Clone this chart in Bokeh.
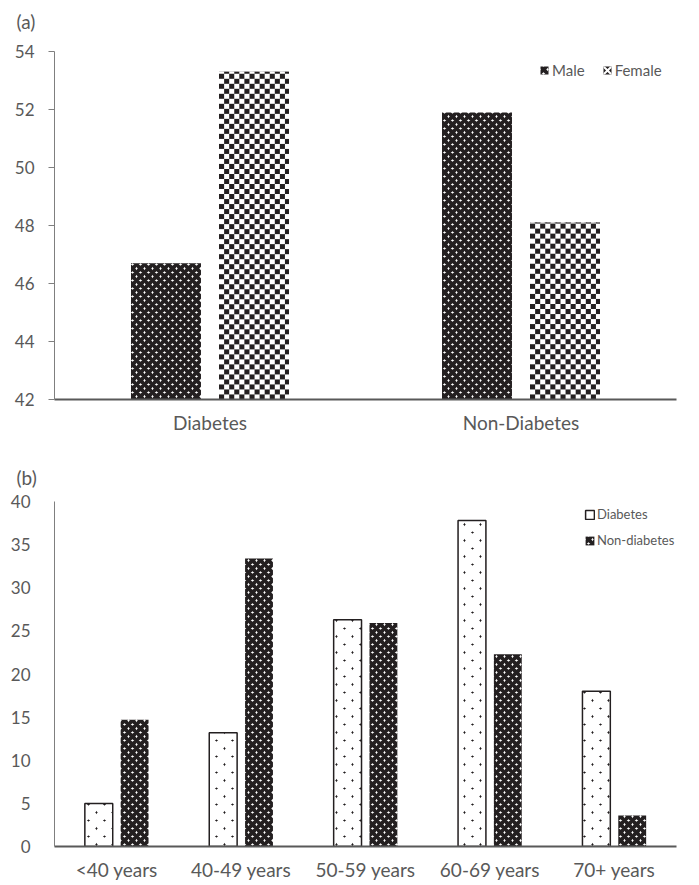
import numpy as np
from bokeh.plotting import figure
from bokeh.models import ColumnDataSource, Legend, LegendItem, SingleIntervalTicker, Title
from bokeh.transform import dodge
from bokeh.layouts import column
from bokeh.embed import file_html
from bokeh.resources import INLINE

# ---- data (a)
groups_a = ["Diabetes", "Non-Diabetes"]
male_a = [46.7, 51.9]
female_a = [53.3, 48.1]

# ---- data (b)
ages_b = ["<40 years", "40-49 years", "50-59 years", "60-69 years", "70+ years"]
diab_b = [5.0, 13.2, 26.3, 37.8, 18.0]
nondiab_b = [14.7, 33.4, 25.9, 22.3, 3.6]

FONT = "Lato"
GREY = "#595959"
BLACK = "#231f20"
W = 695
FRAME_H = 348
BAR_W = 0.225


def style(p, ticks_out, xstandoff, ystandoff):
    p.toolbar_location = None
    p.outline_line_color = None
    p.xgrid.visible = False
    p.ygrid.visible = False
    p.x_range.range_padding = 0
    p.xaxis.major_label_text_font = FONT
    p.xaxis.major_label_text_font_size = "19px"
    p.yaxis.major_label_text_font = FONT
    p.yaxis.major_label_text_font_size = "17px"
    for ax in (p.xaxis[0], p.yaxis[0]):
        ax.major_label_text_color = GREY
        ax.minor_tick_line_color = None
        ax.major_tick_in = 0
    p.xaxis.axis_line_color = GREY
    p.xaxis.axis_line_width = 2
    p.xaxis.major_tick_line_color = None
    p.xaxis.major_tick_out = 0
    p.xaxis.major_label_standoff = xstandoff
    p.yaxis.axis_line_color = "#7f7f7f"
    p.yaxis.axis_line_width = 1
    if ticks_out:
        p.yaxis.major_tick_out = 6
        p.yaxis.major_tick_line_color = "#7f7f7f"
    else:
        p.yaxis.major_tick_out = 0
        p.yaxis.major_tick_line_color = None
    p.yaxis.major_label_standoff = ystandoff


def panel_label(p, txt, gap):
    # spacer title next to the frame, then the panel label above it
    p.add_layout(Title(text=" ", text_font_size="2px", standoff=gap), "above")
    p.add_layout(Title(text=txt, align="left", offset=-38, standoff=0, text_font=FONT,
                       text_font_size="19px", text_font_style="normal", text_color=GREY), "above")


def checker_img(h_px, w_px, cell=5):
    yy, xx = np.mgrid[0:h_px, 0:w_px]
    on = ((yy // cell) + (xx // cell)) % 2 == 0
    return np.where(on, 0xFF201F23, 0xFFFFFFFF).astype(np.uint32)


# ---------------- panel (a)
ymin_a, ymax_a = 42, 54
src_a = ColumnDataSource(dict(g=groups_a, male=male_a, female=female_a))
pa = figure(x_range=groups_a, y_range=(ymin_a, ymax_a), width=W, height=436,
            output_backend="svg", toolbar_location=None,
            min_border_left=54, min_border_right=W - 676, min_border_top=51, min_border_bottom=37)
style(pa, True, 11, 14)
pa.yaxis.ticker = SingleIntervalTicker(interval=2)
panel_label(pa, "(a)", 15)

r_m = pa.vbar(x=dodge("g", -0.1415, range=pa.x_range), top="male", bottom=ymin_a, width=BAR_W, source=src_a,
              fill_color="white", line_color=None, hatch_pattern="diagonal_cross", hatch_color=BLACK,
              hatch_scale=8, hatch_weight=3.8)
r_f = pa.vbar(x=dodge("g", 0.1415, range=pa.x_range), top="female", bottom=ymin_a, width=BAR_W, source=src_a,
              fill_color=BLACK, line_color=None, hatch_pattern="diagonal_cross", hatch_color="white",
              hatch_scale=10, hatch_weight=2)
# checkerboard fill of the female bars (pattern image stretched over each bar)
px_per_unit = FRAME_H / (ymax_a - ymin_a)
bar_px_w = int(round(BAR_W * (676 - 54) / len(groups_a)))
fh = [f - ymin_a for f in female_a]
imgs = [checker_img(int(round(h * px_per_unit)), bar_px_w) for h in fh]
src_img = ColumnDataSource(dict(g=groups_a, img=imgs, fh=fh))
pa.image_rgba(image="img", x=dodge("g", 0.1415, range=pa.x_range), y=ymin_a, dw=BAR_W, dh="fh",
              anchor="bottom_center", source=src_img)

leg_a = Legend(items=[LegendItem(label="Male", renderers=[r_m]), LegendItem(label="Female", renderers=[r_f])],
               orientation="horizontal", location=(485, 320), border_line_color=None,
               background_fill_alpha=0, label_text_font=FONT, label_text_font_size="15px",
               label_text_color=GREY, glyph_width=10, glyph_height=10, spacing=17,
               label_standoff=3, padding=0, margin=0, label_height=16)
pa.add_layout(leg_a)

# ---------------- panel (b)
src_b = ColumnDataSource(dict(a=ages_b, d=diab_b, n=nondiab_b))
pb = figure(x_range=ages_b, y_range=(0, 40), width=W, height=447,
            output_backend="svg", toolbar_location=None,
            min_border_left=54, min_border_right=W - 680, min_border_top=65, min_border_bottom=34)
style(pb, False, 11, 20)
pb.yaxis.ticker = SingleIntervalTicker(interval=5)
panel_label(pb, "(b)", 9)

r_d = pb.vbar(x=dodge("a", -0.144, range=pb.x_range), top="d", width=0.224, source=src_b,
              fill_color=BLACK, line_color=BLACK, line_width=1.5, hatch_pattern="diagonal_cross",
              hatch_color="white", hatch_scale=16, hatch_weight=9.6)
r_n = pb.vbar(x=dodge("a", 0.144, range=pb.x_range), top="n", width=0.224, source=src_b,
              fill_color="white", line_color=None, hatch_pattern="diagonal_cross", hatch_color=BLACK,
              hatch_scale=8, hatch_weight=3.8)
leg_b = Legend(items=[LegendItem(label="Diabetes", renderers=[r_d]), LegendItem(label="Non-diabetes", renderers=[r_n])],
               orientation="vertical", location=(530, 296), border_line_color=None,
               background_fill_alpha=0, label_text_font=FONT, label_text_font_size="13px",
               label_text_color=GREY, glyph_width=11, glyph_height=11, spacing=6,
               label_standoff=2, padding=0, margin=0, label_height=20)
pb.add_layout(leg_b)

layout = column(pa, pb, spacing=0)
open("out.html", "w").write(file_html(layout, INLINE))
